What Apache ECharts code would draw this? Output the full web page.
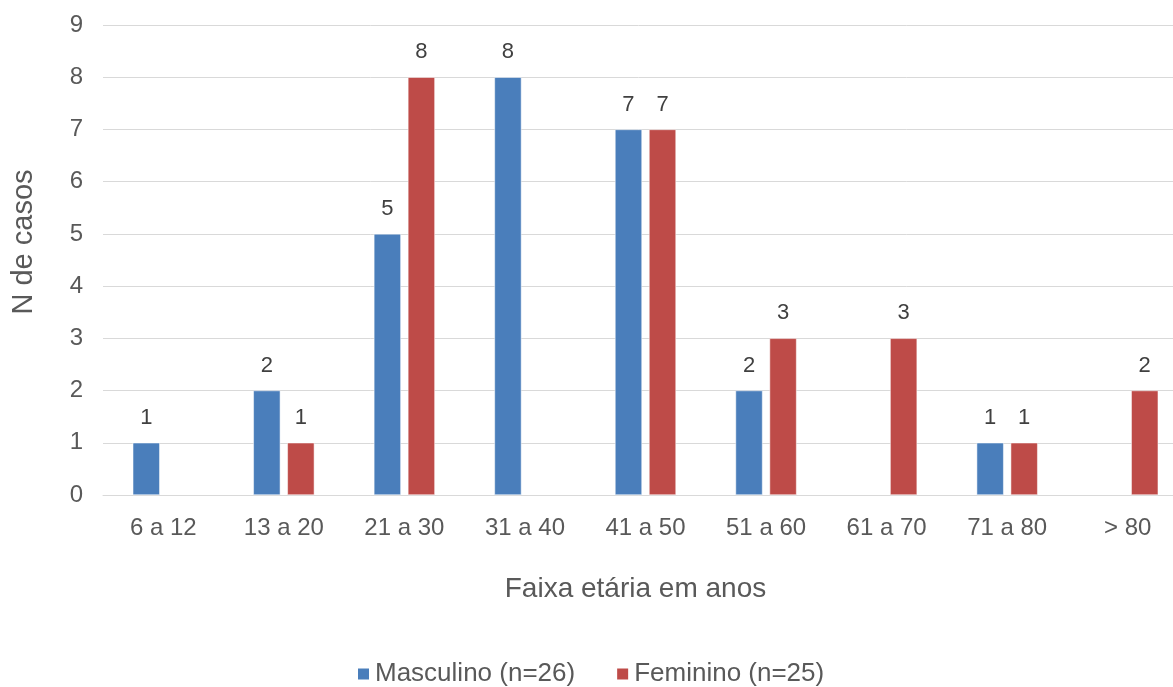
<!DOCTYPE html>
<html><head><meta charset="utf-8">
<script src="https://cdn.jsdelivr.net/npm/echarts@6/dist/echarts.min.js"></script>
<style>html,body{margin:0;padding:0;background:#fff}#c{width:1173px;height:687px}</style>
</head><body><div id="c"></div>
<script>
const categories = ['6 a 12','13 a 20','21 a 30','31 a 40','41 a 50','51 a 60','61 a 70','71 a 80','> 80'];
const masculino = [1, 2, 5, 8, 7, 2, null, 1, null];
const feminino = [null, 1, 8, null, 7, 3, 3, 1, 2];
const seriesNames = ['Masculino (n=26)', 'Feminino (n=25)'];
const yTicks = {min: 0, max: 9, interval: 1};

const font = '"Liberation Sans", Arial, sans-serif';
const chart = echarts.init(document.getElementById('c'), null, {renderer: 'canvas'});
const labelCfg = {show: true, position: 'top', distance: 14, color: '#404040', fontSize: 22, fontFamily: font};
chart.setOption({
  animation: false,
  backgroundColor: '#fff',
  textStyle: {fontFamily: font},
  grid: {left: 103, top: 25, width: 1085, height: 470, containLabel: false, outerBoundsMode: 'none'},
  legend: {
    left: 351, top: 656, itemWidth: 13, itemHeight: 13, itemGap: 40,
    icon: 'rect',
    textStyle: {fontSize: 26, color: '#595959', fontFamily: font},
    data: seriesNames
  },
  xAxis: {
    type: 'category', data: categories,
    axisLine: {show: true, lineStyle: {color: '#D9D9D9'}},
    axisTick: {show: false},
    axisLabel: {color: '#595959', fontSize: 24, margin: 21, fontFamily: font},
    name: 'Faixa etária em anos', nameLocation: 'middle', nameGap: 80,
    nameTextStyle: {fontSize: 28, color: '#595959', fontFamily: font, padding: [0, 20, 0, 0]}
  },
  yAxis: {
    type: 'value', min: yTicks.min, max: yTicks.max, interval: yTicks.interval,
    axisLine: {show: false}, axisTick: {show: false},
    splitLine: {lineStyle: {color: '#D9D9D9', width: 1}},
    axisLabel: {color: '#595959', fontSize: 24, margin: 20, fontFamily: font},
    name: 'N de casos', nameLocation: 'middle', nameGap: 65,
    nameTextStyle: {fontSize: 29, color: '#595959', fontFamily: font, padding: [0, 0, 0, 36]}
  },
  series: [
    {name: seriesNames[0], type: 'bar', data: masculino, barWidth: 27, barGap: '26%',
     itemStyle: {color: '#4A7EBB', borderColor: '#fff', borderWidth: 0.5}, label: labelCfg},
    {name: seriesNames[1], type: 'bar', data: feminino, barWidth: 27,
     itemStyle: {color: '#BE4B48', borderColor: '#fff', borderWidth: 0.5}, label: labelCfg}
  ]
});
</script></body></html>
